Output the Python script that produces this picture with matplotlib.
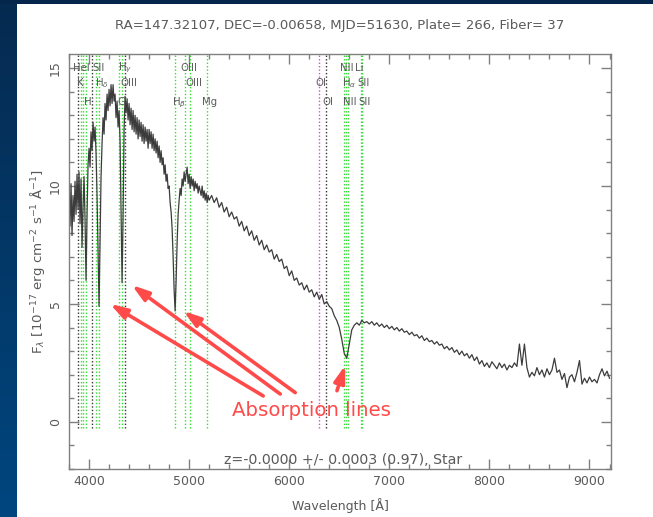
import numpy as np
import matplotlib.pyplot as plt
from matplotlib.ticker import MultipleLocator
from matplotlib.colors import LinearSegmentedColormap

# spectrum, blue part sampled every 10 A, red part every 25 A
wave = [
    3800, 3810, 3820, 3830, 3840, 3850, 3860, 3870, 3880, 3890,
    3900, 3910, 3920, 3930, 3940, 3950, 3960, 3970, 3980, 3990,
    4000, 4010, 4020, 4030, 4040, 4050, 4060, 4070, 4080, 4090,
    4100, 4110, 4120, 4130, 4140, 4150, 4160, 4170, 4180, 4190,
    4200, 4210, 4220, 4230, 4240, 4250, 4260, 4270, 4280, 4290,
    4300, 4310, 4320, 4330, 4340, 4350, 4360, 4370, 4380, 4390,
    4400, 4410, 4420, 4430, 4440, 4450, 4460, 4470, 4480, 4490,
    4500, 4510, 4520, 4530, 4540, 4550, 4560, 4570, 4580, 4590,
    4600, 4610, 4620, 4630, 4640, 4650, 4660, 4670, 4680, 4690,
    4700, 4710, 4720, 4730, 4740, 4750, 4760, 4770, 4780, 4790,
    4800, 4810, 4820, 4830, 4840, 4850, 4860, 4870, 4880, 4890,
    4900, 4910, 4920, 4930, 4940, 4950, 4960, 4970, 4980, 4990,
    5000, 5010, 5020, 5030, 5040, 5050, 5060, 5070, 5080, 5090,
    5100, 5110, 5120, 5130, 5140, 5150, 5160, 5170, 5180, 5190,
    5200,
    5225, 5250, 5275, 5300, 5325, 5350, 5375, 5400, 5425, 5450,
    5475, 5500, 5525, 5550, 5575, 5600, 5625, 5650, 5675, 5700,
    5725, 5750, 5775, 5800, 5825, 5850, 5875, 5900, 5925, 5950,
    5975, 6000, 6025, 6050, 6075, 6100, 6125, 6150, 6175, 6200,
    6225, 6250, 6275, 6300, 6325, 6350, 6375, 6400, 6425, 6450,
    6475, 6500, 6525, 6550, 6575, 6600, 6625, 6650, 6675, 6700,
    6725, 6750, 6775, 6800, 6825, 6850, 6875, 6900, 6925, 6950,
    6975, 7000, 7025, 7050, 7075, 7100, 7125, 7150, 7175, 7200,
    7225, 7250, 7275, 7300, 7325, 7350, 7375, 7400, 7425, 7450,
    7475, 7500, 7525, 7550, 7575, 7600, 7625, 7650, 7675, 7700,
    7725, 7750, 7775, 7800, 7825, 7850, 7875, 7900, 7925, 7950,
    7975, 8000, 8025, 8050, 8075, 8100, 8125, 8150, 8175, 8200,
    8225, 8250, 8275, 8300, 8325, 8350, 8375, 8400, 8425, 8450,
    8475, 8500, 8525, 8550, 8575, 8600, 8625, 8650, 8675, 8700,
    8725, 8750, 8775, 8800, 8825, 8850, 8875, 8900, 8925, 8950,
    8975, 9000, 9025, 9050, 9075, 9100, 9125, 9150, 9175, 9200,
]
flux = [
    9.8, 8.3, 10.1, 7.9, 9.6, 8.5, 10.2, 8.8, 10.5, 9.0,
    10.6, 8.4, 10.3, 7.4, 9.1, 10.4, 8.6, 6.0, 8.8, 10.9,
    11.6, 10.8, 12.3, 11.5, 12.7, 11.9, 12.5, 11.4, 9.6, 7.2,
    4.9, 7.8, 10.4, 11.8, 12.9, 12.2, 13.5, 12.8, 13.9, 13.2,
    14.1, 13.4, 14.3, 13.5, 14.3, 13.6, 13.9, 12.9, 13.6, 12.5,
    13.2, 11.9, 9.0, 5.9, 8.7, 12.4, 13.8, 13.1, 13.7, 12.8,
    13.5, 12.6, 13.3, 12.4, 13.2, 12.3, 13.0, 12.2, 12.9, 12.0,
    12.8, 12.1, 12.7, 11.9, 12.6, 11.8, 12.5, 11.9, 12.4, 11.6,
    12.4, 11.8, 12.3, 11.6, 12.2, 11.5, 12.0, 11.4, 11.9, 11.2,
    11.7, 11.0, 11.5, 10.9, 11.2, 10.5, 10.9, 10.2, 10.5, 9.9,
    10.0, 9.3, 8.9, 8.2, 7.0, 5.6, 4.7, 6.0, 7.6, 8.8,
    9.4, 9.9, 9.6, 10.3, 10.0, 10.6, 10.2, 10.5, 10.8, 10.1,
    10.5, 9.9, 10.4, 10.0, 10.3, 9.8, 10.2, 9.9, 10.1, 9.7,
    10.0, 9.8, 9.6, 10.0, 9.5, 9.8, 9.4, 9.7, 9.3, 9.6,
    9.4,
    9.6, 9.3, 9.5, 9.1, 9.3, 8.9, 9.1, 8.7, 8.9, 8.6,
    8.7, 8.3, 8.5, 8.1, 8.3, 7.9, 8.1, 7.7, 7.9, 7.5,
    7.7, 7.3, 7.5, 7.2, 7.3, 6.9, 7.1, 6.8, 6.9, 6.5,
    6.6, 6.2, 6.4, 6.0, 6.1, 5.8, 5.9, 5.6, 5.8, 5.5,
    5.6, 5.3, 5.5, 5.2, 5.4, 5.0, 5.1, 4.9, 4.8, 4.5,
    4.3, 4.0, 3.5, 2.9, 2.7, 3.3, 3.9, 4.1, 4.2, 4.1,
    4.3, 4.2, 4.25, 4.15, 4.25, 4.1, 4.2, 4.05, 4.15, 4.0,
    4.1, 3.95, 4.05, 3.9, 4.0, 3.85, 3.95, 3.8, 3.85, 3.7,
    3.8, 3.65, 3.7, 3.55, 3.65, 3.45, 3.55, 3.4, 3.45, 3.3,
    3.4, 3.25, 3.3, 3.1, 3.2, 3.05, 3.15, 2.95, 3.05, 2.85,
    3.0, 2.8, 2.9, 2.7, 2.85, 2.6, 2.75, 2.45, 2.6, 2.35,
    2.5, 2.3, 2.55, 2.4, 2.25, 2.5, 2.3, 2.45, 2.2, 2.4,
    2.3, 2.5, 2.35, 3.3, 2.4, 3.3, 2.3, 1.9, 2.1, 1.95,
    2.3, 2.0, 2.2, 1.9, 2.25, 2.0, 2.2, 2.7, 2.1, 2.2,
    1.8, 2.05, 1.45, 1.9, 2.0, 1.7, 2.1, 2.6, 1.6, 1.85,
    1.65, 1.9, 1.7, 1.8, 1.65, 2.0, 2.25, 1.95, 2.15, 1.85,
]

# line markers
line_wave = [3885, 3918, 3938, 3970, 4028, 4068, 4095, 4303, 4327, 4360,
             4861, 4959, 5007, 5175, 6300, 6363, 6548, 6563, 6583, 6716, 6731]
line_color = ['#333333', '#33dd33', '#33dd33', '#33dd33', '#333333', '#33dd33',
              '#33dd33', '#33dd33', '#33dd33', '#333333', '#33dd33', '#33dd33',
              '#33dd33', '#33dd33', '#d050d0', '#333333', '#33dd33', '#33dd33',
              '#33dd33', '#33dd33', '#33dd33']

label_text = ['HeI', 'SII', r'H$_\gamma$', 'OIII',
              'K', r'H$_\delta$', 'OIII', 'OIII',
              'H', 'G', r'H$_\beta$', 'Mg',
              'NII', 'Li', 'OI', r'H$_\alpha$', 'SII', 'OI', 'NII', 'SII']
label_wave = [3840, 4030, 4290, 4910,
              3880, 4060, 4310, 4960,
              3950, 4280, 4830, 5130,
              6510, 6660, 6260, 6530, 6680, 6330, 6540, 6690]
label_row = [0, 0, 0, 0, 1, 1, 1, 1, 2, 2, 2, 2, 0, 0, 1, 1, 1, 2, 2, 2]
row_y = [15.0, 14.35, 13.55]

# arrows: (head wavelength, head flux, tail wavelength, tail flux)
arrow_head_w = [4210, 4427, 4943, 6560]
arrow_head_f = [5.0, 5.8, 4.7, 2.4]
arrow_tail_w = [5740, 5910, 6060, 6477]
arrow_tail_f = [1.1, 1.18, 1.24, 1.32]

grey = '#5a5a5a'
spine = '#808080'
red = '#ff4a4a'

fig = plt.figure(figsize=(6.53, 5.17), dpi=100)
fig.patch.set_facecolor('white')

# blue frame strips
bg = fig.add_axes([0, 0, 1, 1], zorder=-5)
bg.set_xlim(0, 653)
bg.set_ylim(517, 0)
bg.axis('off')
grad = np.linspace(0, 1, 200).reshape(-1, 1)
cm = LinearSegmentedColormap.from_list('frame', ['#062a50', '#00467f'])
bg.imshow(grad, cmap=cm, extent=(0, 17, 517, 0), aspect='auto')
bg.add_patch(plt.Rectangle((0, 0), 653, 3.5, color='#04264a', lw=0))

ax = fig.add_axes([0.1057, 0.0928, 0.83, 0.8028])
ymax = 15.6
ax.set_xlim(3800, 9215)
ax.set_ylim(-2.0, ymax)

ax.vlines(line_wave, -0.25, ymax, colors=line_color, linestyles=(0, (1, 1.5)), lw=1.0)
ax.plot(wave, flux, color='#3c3c3c', lw=0.9)

for t, w, r in zip(label_text, label_wave, label_row):
    ax.text(w, row_y[r], t, fontsize=7.3, color=grey, va='center', ha='left')

for hw, hf, tw, tf in zip(arrow_head_w, arrow_head_f, arrow_tail_w, arrow_tail_f):
    ax.annotate('', xy=(hw, hf), xytext=(tw, tf),
                arrowprops=dict(arrowstyle='-|>,head_length=1.0,head_width=0.32',
                                color=red, lw=2.6, shrinkA=0, shrinkB=0),
                annotation_clip=False)
ax.text(6220, 0.5, 'Absorption lines', color=red, fontsize=14.2,
        ha='center', va='center')

ax.text(0.506, 0.022, 'z=-0.0000 +/- 0.0003 (0.97), Star', transform=ax.transAxes,
        fontsize=10.2, color=grey, ha='center', va='center')

for s in ax.spines.values():
    s.set_color(spine)
    s.set_linewidth(1.0)
ax.xaxis.set_major_locator(MultipleLocator(1000))
ax.xaxis.set_minor_locator(MultipleLocator(200))
ax.yaxis.set_major_locator(MultipleLocator(5))
ax.yaxis.set_minor_locator(MultipleLocator(1))
ax.tick_params(which='both', direction='in', top=True, right=True, colors=spine,
               labelcolor=grey, labelsize=9)
ax.tick_params(which='major', length=7, width=1)
ax.tick_params(which='minor', length=3.5, width=1)
ax.tick_params(axis='x', pad=4)
ax.tick_params(axis='y', pad=5)
for lab in ax.get_yticklabels():
    lab.set_rotation(90)
    lab.set_va('center')

ax.set_xlabel('Wavelength [Å]', fontsize=9, color=grey, va='center')
ax.xaxis.set_label_coords(0.5, -0.089)
ax.set_ylabel(r'F$_\lambda$ [10$^{-17}$ erg cm$^{-2}$ s$^{-1}$ Å$^{-1}$]',
              fontsize=9.6, color=grey, va='center')
ax.yaxis.set_label_coords(-0.059, 0.5)

fig.text(0.52, 0.9516, 'RA=147.32107, DEC=-0.00658, MJD=51630, Plate= 266, Fiber= 37',
         fontsize=9.5, color=grey, ha='center', va='center')

fig.savefig('out.png', dpi=100)
